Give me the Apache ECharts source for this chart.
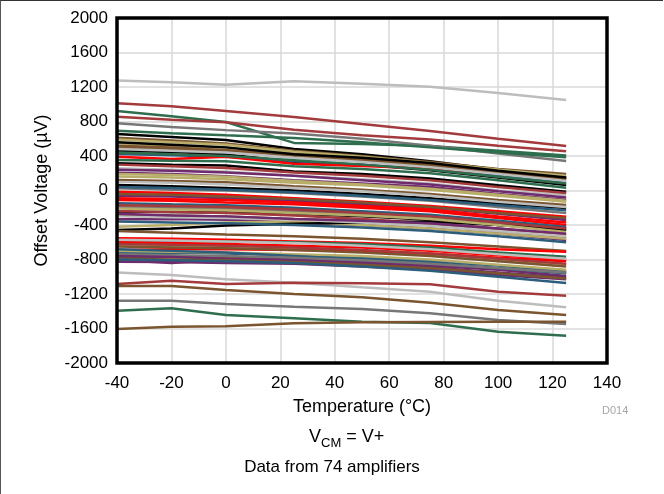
<!DOCTYPE html>
<html>
<head>
<meta charset="utf-8">
<script src="https://cdn.jsdelivr.net/npm/echarts@6/dist/echarts.min.js"></script>
<style>
html,body{margin:0;padding:0;background:#fff;}
#frame{position:absolute;left:0;top:0;width:663px;height:494px;border-left:1.5px solid #555;border-top:1.5px solid #333;box-sizing:border-box;pointer-events:none;}
#chart{position:absolute;left:0;top:0;width:664px;height:494px;}
</style>
</head>
<body>
<div id="chart"></div>
<div id="frame"></div>
<script>
// Temperature points (°C)
const temps = [-40, -20, 0, 25, 50, 75, 100, 125];
// Axis ticks
const xTicks = [-40, -20, 0, 20, 40, 60, 80, 100, 120, 140];
const yTicks = [-2000, -1600, -1200, -800, -400, 0, 400, 800, 1200, 1600, 2000];
// Palette names
const palette = {
  rb: '#A33B3D', gr: '#2E6E4E', gy: '#777777', bk: '#000000', br: '#7A5530',
  kh: '#B8AE6A', lg: '#BDBDBD', pu: '#6E2C6C', rd: '#FF0000', tl: '#2C5E7C'
};
// Colour of each amplifier line
const lineColors = [
  'lg','rb','gr','rb','gy','gr','bk','br','kh','br',
  'bk','tl','rd','gr','bk','lg','pu','kh','br','bk',
  'gy','rd','pu','rd','tl','gy','bk','rb','br','pu',
  'kh','bk','br','rd','gr','kh','rd','tl','br','pu',
  'pu','lg','rb','br','gy','gr','br','kh','br','lg',
  'gr','bk','rb','pu','kh','lg','tl','br','rd','rb',
  'kh','lg','tl','pu','rd','br','kh','tl','rb','gy',
  'pu','br','tl','lg'
];
// Offset voltage (µV) of each amplifier at the temperatures above
const offsetsUV = [
  [1275,1255,1225,1268,1238,1204,1130,1050],
  [1011,978,922,852,770,690,600,516],
  [922,860,795,552,540,515,460,405],
  [856,820,790,705,640,590,520,455],
  [779,735,700,660,600,520,430,342],
  [693,665,640,610,560,500,440,385],
  [655,620,585,480,420,340,240,140],
  [613,580,545,460,400,330,250,190],
  [547,520,500,430,380,320,240,160],
  [500,480,460,420,360,300,230,150],
  [462,445,420,330,300,235,150,64],
  [423,410,390,340,300,250,180,100],
  [392,365,390,310,285,255,200,140],
  [354,345,340,280,250,200,120,33],
  [315,300,290,220,190,140,60,-14],
  [257,240,220,170,130,80,0,-52],
  [207,190,165,120,80,40,-40,-110],
  [161,150,130,90,60,10,-60,-130],
  [122,110,95,50,10,-40,-110,-168],
  [64,50,30,0,-40,-90,-150,-203],
  [25,10,0,-30,-70,-120,-190,-261],
  [-14,-30,-50,-90,-130,-180,-240,-303],
  [-64,-70,-90,-120,-160,-200,-270,-342],
  [-110,-120,-140,-160,-200,-240,-320,-400],
  [-149,-160,-170,-200,-240,-280,-350,-423],
  [-195,-200,-210,-240,-270,-310,-380,-458],
  [-246,-250,-255,-270,-300,-340,-400,-458],
  [-240,-250,-260,-290,-330,-380,-440,-516],
  [-284,-290,-300,-330,-360,-400,-470,-540],
  [-334,-330,-340,-370,-400,-440,-500,-574],
  [-420,-400,-370,-360,-400,-440,-500,-560],
  [-458,-440,-405,-385,-370,-360,-400,-440],
  [-470,-490,-510,-530,-560,-600,-650,-700],
  [-554,-560,-570,-590,-610,-640,-680,-710],
  [-594,-590,-590,-600,-620,-660,-720,-767],
  [-632,-640,-650,-670,-700,-740,-800,-860],
  [-690,-680,-680,-690,-700,-730,-780,-820],
  [-728,-720,-730,-750,-780,-820,-870,-940],
  [-767,-770,-780,-790,-810,-850,-900,-957],
  [-806,-840,-800,-800,-830,-870,-920,-990],
  [-825,-830,-840,-850,-880,-920,-980,-1030],
  [-950,-980,-1030,-1069,-1122,-1173,-1278,-1354],
  [-1084,-1046,-1084,-1069,-1076,-1088,-1173,-1220],
  [-1107,-1107,-1154,-1200,-1238,-1301,-1386,-1443],
  [-1278,-1278,-1316,-1347,-1374,-1424,-1501,-1548],
  [-1394,-1366,-1443,-1482,-1521,-1536,-1637,-1683],
  [-1606,-1579,-1575,-1540,-1528,-1525,-1522,-1521],
  [590,560,530,450,390,320,240,170],
  [520,500,470,400,350,290,210,130],
  [480,460,440,380,330,270,190,110],
  [440,420,400,350,300,240,160,80],
  [560,530,500,420,380,320,230,150],
  [300,280,260,210,170,120,40,-30],
  [240,230,210,170,120,70,-10,-80],
  [190,180,160,110,70,20,-50,-120],
  [100,90,70,30,-10,-60,-130,-190],
  [40,30,10,-20,-60,-110,-170,-230],
  [-40,-50,-70,-100,-140,-190,-260,-320],
  [-90,-100,-110,-140,-180,-220,-300,-370],
  [-170,-180,-190,-220,-260,-300,-370,-440],
  [-210,-220,-230,-260,-290,-330,-400,-480],
  [-300,-310,-320,-340,-370,-410,-470,-530],
  [-360,-370,-380,-400,-430,-470,-530,-600],
  [-270,-290,-300,-330,-350,-380,-440,-500],
  [-600,-610,-620,-640,-660,-700,-750,-800],
  [-650,-660,-670,-690,-720,-760,-820,-880],
  [-700,-710,-720,-740,-760,-800,-860,-920],
  [-680,-700,-720,-760,-800,-840,-900,-960],
  [-620,-630,-640,-660,-690,-730,-790,-850],
  [-740,-750,-760,-780,-810,-850,-900,-950],
  [-760,-770,-790,-810,-850,-890,-950,-1010],
  [-790,-800,-810,-830,-860,-900,-960,-1020],
  [-800,-810,-820,-840,-880,-930,-1000,-1073],
  [-570,-580,-590,-610,-640,-680,-740,-790]
];

const font = 'Liberation Sans, Arial, sans-serif';
const series = offsetsUV.map((vals, i) => ({
  type: 'line',
  name: 'Amp ' + (i + 1),
  data: temps.map((t, j) => [t, vals[j]]),
  showSymbol: false,
  symbol: 'none',
  silent: true,
  lineStyle: { color: palette[lineColors[i]], width: 2.5 },
  z: 2
}));

const GL = 117, GT = 18, GW = 490, GH = 345;
const chart = echarts.init(document.getElementById('chart'));
chart.setOption({
  animation: false,
  grid: { left: GL, top: GT, width: GW, height: GH, show: false },
  xAxis: {
    type: 'value', min: xTicks[0], max: xTicks[xTicks.length - 1], interval: 20,
    name: 'Temperature (°C)', nameLocation: 'middle', nameGap: 35,
    nameTextStyle: { fontFamily: font, fontSize: 18, color: '#000' },
    axisLine: { show: false }, axisTick: { show: false },
    axisLabel: { fontFamily: font, fontSize: 17, color: '#000', margin: 12, formatter: v => String(v) },
    splitLine: { show: true, lineStyle: { color: '#d9d9d9', width: 1.5 } }
  },
  yAxis: {
    type: 'value', min: yTicks[0], max: yTicks[yTicks.length - 1], interval: 400,
    name: 'Offset Voltage (µV)', nameLocation: 'middle', nameGap: 66,
    nameTextStyle: { fontFamily: font, fontSize: 18, color: '#000' },
    axisLine: { show: false }, axisTick: { show: false },
    axisLabel: { fontFamily: font, fontSize: 17, color: '#000', margin: 9, formatter: v => String(v) },
    splitLine: { show: true, lineStyle: { color: '#d9d9d9', width: 1.5 } }
  },
  graphic: [
    { type: 'rect', z: 100, silent: true, shape: { x: GL, y: GT, width: GW, height: GH },
      style: { fill: 'none', stroke: '#000', lineWidth: 3.5 } },
    { type: 'text', left: 602, top: 405, style: { text: 'D014', fontFamily: font, fontSize: 11, fill: '#a6a6a6' } },
    { type: 'text', left: 309, top: 428, style: {
        text: '{b|V}{s|CM}{b| = V+}', fontFamily: font,
        rich: { b: { fontSize: 18, fontFamily: font, fill: '#000', verticalAlign: 'bottom' },
                s: { fontSize: 13, fontFamily: font, fill: '#000', padding: [0,0,-4,0], verticalAlign: 'bottom' } } } },
    { type: 'text', left: 'center', top: 459, style: { text: 'Data from 74 amplifiers', fontFamily: font, fontSize: 17, fill: '#000' } }
  ],
  series: series
});
</script>
</body>
</html>
